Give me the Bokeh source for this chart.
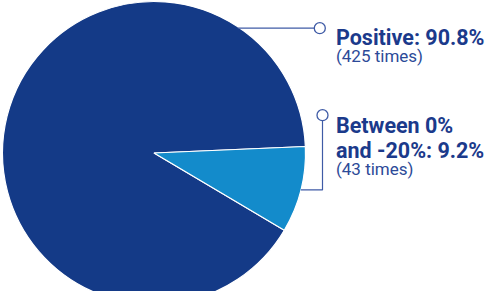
import math
from bokeh.plotting import figure
from bokeh.models import Range1d
from bokeh.core.properties import value
from bokeh.embed import file_html
from bokeh.resources import INLINE

# ---- data ----
labels = ["Positive", "Between 0% and -20%"]
shares = [90.8, 9.2]
counts = [425, 43]
colors = ["#143A87", "#138BCB"]
label_lines = [["Positive"], ["Between 0%", "and -20%"]]

# ---- layout constants (pixel-like data units) ----
W, H = 486, 291
cx, cy, r = 153.5, 138.5, 151.5
start_deg = 2.45

p = figure(width=W, height=H, output_backend="svg", toolbar_location=None,
           x_range=Range1d(0, W), y_range=Range1d(0, H), min_border=0)
p.axis.visible = False
p.grid.visible = False
p.outline_line_color = None
p.background_fill_color = "white"

# wedges
starts, ends = [], []
a = math.radians(start_deg)
for s in shares:
    span = 2 * math.pi * s / 100.0
    starts.append(a)
    ends.append(a + span)
    a += span
p.wedge(x=[cx] * len(shares), y=[cy] * len(shares), radius=r,
        start_angle=starts, end_angle=ends, fill_color=colors,
        line_color="white", line_width=1.2)

lead_col = "#3f5ba6"
txt_col = "#1b3a8b"
sub_col = "#2c4a98"
font = value("Roboto")

# Leader 1 (Positive): horizontal line at given y to the circle
l1_y = 263.3
l1_cx = 319.3
x_edge = cx + math.sqrt(r ** 2 - (l1_y - cy) ** 2)
p.line([x_edge - 2, l1_cx - 5.5], [l1_y, l1_y], line_color=lead_col, line_width=1.2)
p.scatter([l1_cx], [l1_y], size=11, fill_color="white", line_color=lead_col, line_width=1.3)

# Leader 2 (Between): from slice mid-angle edge, elbow up to circle
mid = (starts[1] + ends[1]) / 2 - 2 * math.pi
ey = cy + r * math.sin(mid)
ex = cx + r * math.cos(mid)
l2_cx, l2_cy = 322.0, 176.3
p.line([ex, l2_cx, l2_cx], [ey, ey, l2_cy - 5.5], line_color=lead_col, line_width=1.2)
p.scatter([l2_cx], [l2_cy], size=11, fill_color="white", line_color=lead_col, line_width=1.3)

# Texts
tx = 335.5
bold_lines_1 = [f"{label_lines[0][0]}: {shares[0]}%"]
bold_lines_2 = [label_lines[1][0], f"{label_lines[1][1]}: {shares[1]}%"]
p.text(x=[tx], y=[254.0], text=bold_lines_1, text_font=font, text_font_style="bold",
       text_font_size="21.5px", text_color=txt_col, text_baseline="alphabetic")
p.text(x=[tx], y=[235.7], text=[f"({counts[0]} times)"], text_font=font,
       text_font_size="17px", text_color=sub_col, text_baseline="alphabetic")
p.text(x=[tx, tx], y=[165.7, 141.0], text=bold_lines_2, text_font=font, text_font_style="bold",
       text_font_size="21.5px", text_color=txt_col, text_baseline="alphabetic")
p.text(x=[tx], y=[122.3], text=[f"({counts[1]} times)"], text_font=font,
       text_font_size="17px", text_color=sub_col, text_baseline="alphabetic")

open("out.html", "w").write(file_html(p, INLINE))
